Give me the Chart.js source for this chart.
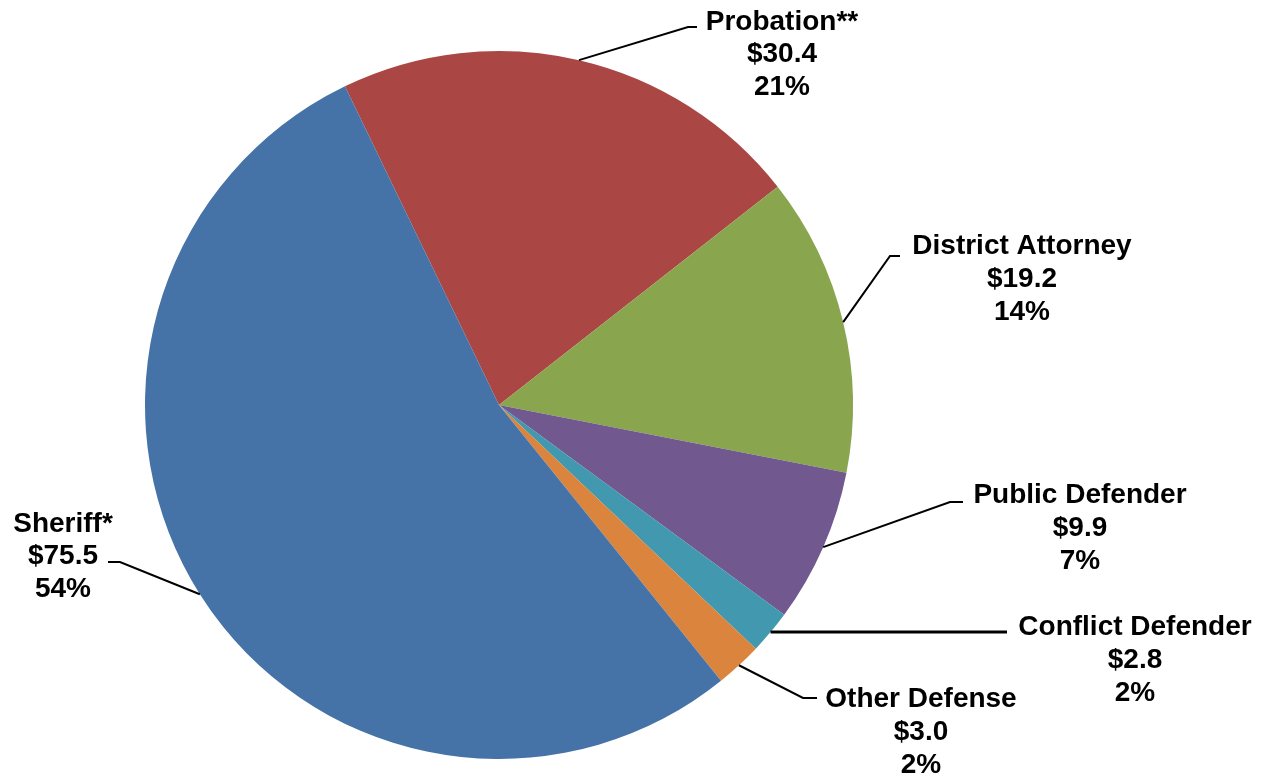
<!DOCTYPE html>
<html>
<head>
<meta charset="utf-8">
<script src="https://cdn.jsdelivr.net/npm/chart.js@4/dist/chart.umd.min.js"></script>
<style>
  html, body { margin: 0; padding: 0; background: #fff; }
  #wrap { width: 1262px; height: 778px; position: relative; }
</style>
</head>
<body>
<div id="wrap"><canvas id="pie-chart" width="1262" height="778"></canvas></div>
<script>
// budget by department, $ millions
var departments = ["Probation**", "District Attorney", "Public Defender", "Conflict Defender", "Other Defense", "Sheriff*"];
var amounts = [30.4, 19.2, 9.9, 2.8, 3.0, 75.5];
var amountLabels = ["$30.4", "$19.2", "$9.9", "$2.8", "$3.0", "$75.5"];
var percentLabels = ["21%", "14%", "7%", "2%", "2%", "54%"];
var sliceColors = ["#AA4644", "#89A54E", "#71588F", "#4198AF", "#DB843D", "#4573A7"];

// where each callout sits: text centre x, first baseline y, leader elbow and end
var callouts = [
    { x: 782, y: 29.5, elbow: [688, 27], end: [697, 27], width: 2 },
    { x: 1022, y: 254, elbow: [890, 256], end: [900, 256], width: 2 },
    { x: 1080, y: 503, elbow: [950, 502], end: [963, 502], width: 2 },
    { x: 1135, y: 635, elbow: [1007, 632], end: [1007, 632], width: 3 },
    { x: 921, y: 707, elbow: [803, 698], end: [817, 698], width: 2 },
    { x: 63, y: 531.5, elbow: [120, 562], end: [108, 562], width: 2 }
];

var calloutPlugin = {
    id: 'callouts',
    afterDatasetsDraw: function (chart) {
        var ctx = chart.ctx;
        var meta = chart.getDatasetMeta(0);
        ctx.save();
        meta.data.forEach(function (arc, i) {
            var c = callouts[i];
            var mid = (arc.startAngle + arc.endAngle) / 2;
            var sx = arc.x + Math.cos(mid) * arc.outerRadius;
            var sy = arc.y + Math.sin(mid) * arc.outerRadius;
            ctx.beginPath();
            ctx.strokeStyle = '#000';
            ctx.lineWidth = c.width;
            ctx.moveTo(sx, sy);
            ctx.lineTo(c.elbow[0], c.elbow[1]);
            ctx.lineTo(c.end[0], c.end[1]);
            ctx.stroke();

            ctx.fillStyle = '#000';
            ctx.font = 'bold 28px "Liberation Sans", Arial, sans-serif';
            ctx.textAlign = 'center';
            ctx.textBaseline = 'alphabetic';
            var lines = [chart.data.labels[i], amountLabels[i], percentLabels[i]];
            lines.forEach(function (t, k) {
                ctx.fillText(t, c.x, c.y + k * 32.8);
            });
        });
        ctx.restore();
    }
};

var ctx = document.getElementById('pie-chart').getContext('2d');
var chart = new Chart(ctx, {
    type: 'pie',
    data: {
        labels: departments,
        datasets: [{
            data: amounts,
            backgroundColor: sliceColors,
            borderWidth: 0
        }]
    },
    options: {
        responsive: false,
        animation: false,
        rotation: -25.8,
        layout: { padding: { left: 145, right: 409, top: 51, bottom: 19 } },
        plugins: {
            legend: { display: false },
            tooltip: { enabled: false }
        }
    },
    plugins: [calloutPlugin]
});
</script>
</body>
</html>
